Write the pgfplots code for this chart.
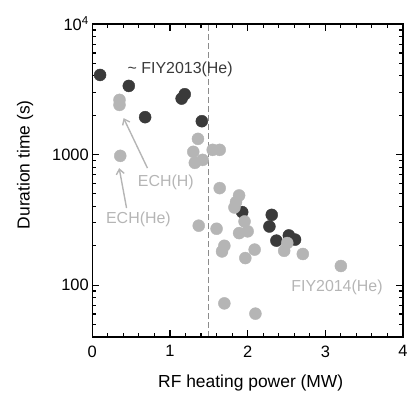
\documentclass[border=0pt]{standalone}
\usepackage{pgfplots}
\pgfplotsset{compat=1.18}
\usepackage{fontspec}
\setmainfont{Liberation Sans}
\usetikzlibrary{calc,arrows.meta}
\definecolor{darkpt}{HTML}{3A3A3A}
\definecolor{lightpt}{HTML}{B5B5B5}
\definecolor{dashc}{HTML}{8C8C8C}
\begin{document}
\begin{tikzpicture}
\begin{axis}[
  scale only axis, width=310.7bp, height=313bp,
  xmin=0, xmax=4, ymin=40, ymax=10000, ymode=log,
  axis on top,
  xtick={0,1,2,3,4}, xticklabels={0,1,2,3,4},
  minor x tick num=4,
  ytick={100,1000,10000}, yticklabels={100,1000,{10\textsuperscript{4}}},
  minor ytick={50,60,70,80,90,200,300,400,500,600,700,800,900,2000,3000,4000,5000,6000,7000,8000,9000},
  tick align=inside,
  major tick length=7bp, minor tick length=4bp,
  tick style={black, line width=1.1bp},
  axis line style={line width=1.3bp},
  tick label style={font=\fontsize{16.5}{19}\selectfont},
  xticklabel style={yshift=-5bp},
  label style={font=\fontsize{17.5}{20}\selectfont},
  xlabel={RF heating power (MW)}, ylabel={Duration time (s)},
  xlabel style={at={(axis description cs:0.51,-0.147)}, anchor=center},
  ylabel style={at={(axis description cs:-0.216,0.55)}, anchor=center},
]
\addplot[dashc, line width=0.9bp, dash pattern=on 6bp off 3bp] coordinates {(1.5,40) (1.5,10000)};
\addplot[only marks, mark=*, mark size=6bp, mark options={draw=darkpt, fill=darkpt}] table {
x y
0.10 4070
0.47 3355
0.68 1933
1.15 2683
1.19 2897
1.41 1800
1.93 362
2.31 345
2.28 281
2.37 219
2.53 240
2.61 223
};
\addplot[only marks, mark=*, mark size=6bp, mark options={draw=lightpt, fill=lightpt}] table {
x y
0.35 2622
0.35 2399
0.36 977
1.36 1318
1.30 1049
1.32 864
1.42 910
1.55 1086
1.64 1086
1.64 553
1.89 486
1.85 432
1.83 393
1.37 285
1.60 270
1.96 307
2.00 258
1.89 250
1.70 200
1.67 181
1.97 161
2.09 187
2.51 210
2.47 183
2.71 173
3.20 140
1.70 72.4
2.10 60.4
};
\pgfplotsinvokeforeach{0,1,2,3,4}{
  \draw[black, line width=1.1bp] (axis cs:#1,40) -- ++(0bp,7bp);
  \draw[black, line width=1.1bp] (axis cs:#1,10000) -- ++(0bp,-7bp);
}
\pgfplotsinvokeforeach{0.2,0.4,0.6,0.8,1.2,1.4,1.6,1.8,2.2,2.4,2.6,2.8,3.2,3.4,3.6,3.8}{
  \draw[black, line width=1.1bp] (axis cs:#1,40) -- ++(0bp,4bp);
  \draw[black, line width=1.1bp] (axis cs:#1,10000) -- ++(0bp,-4bp);
}
\pgfplotsinvokeforeach{100,1000}{
  \draw[black, line width=1.1bp] (axis cs:0,#1) -- ++(7bp,0bp);
  \draw[black, line width=1.1bp] (axis cs:4,#1) -- ++(-7bp,0bp);
}
\pgfplotsinvokeforeach{50,60,70,80,90,200,300,400,500,600,700,800,900,2000,3000,4000,5000,6000,7000,8000,9000}{
  \draw[black, line width=1.1bp] (axis cs:0,#1) -- ++(4bp,0bp);
  \draw[black, line width=1.1bp] (axis cs:4,#1) -- ++(-4bp,0bp);
}
\node[anchor=west, text=darkpt, font=\fontsize{16}{19}\selectfont] at (axis cs:0.41,4525) {\textasciitilde\ FIY2013(He)};
\node[text=lightpt, font=\fontsize{16}{19}\selectfont] at (axis cs:0.947,611) {ECH(H)};
\node[text=lightpt, font=\fontsize{16}{19}\selectfont] at (axis cs:0.594,316) {ECH(He)};
\node[text=lightpt, font=\fontsize{16}{19}\selectfont] at (axis cs:3.15,96.6) {FIY2014(He)};
\draw[lightpt, line width=1.4bp, -{Straight Barb[length=5bp,width=8bp]}] (axis cs:0.71,787) -- (axis cs:0.403,1900);
\draw[lightpt, line width=1.4bp, -{Straight Barb[length=5bp,width=8bp]}] (axis cs:0.441,389) -- (axis cs:0.346,787);
\end{axis}
\pgfresetboundingbox
\path[use as bounding box] ($(current axis.south west)+(-92.3bp,-57bp)$) rectangle ($(current axis.north east)+(6bp,24bp)$);
\end{tikzpicture}
\end{document}
